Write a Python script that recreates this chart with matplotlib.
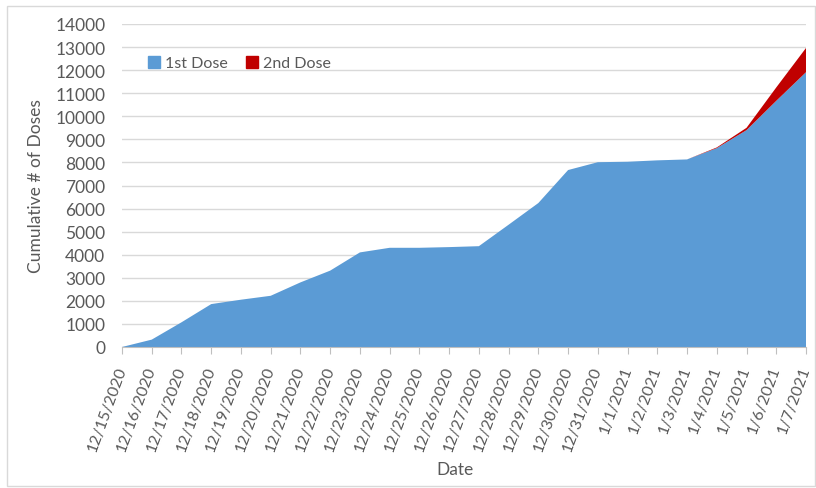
import matplotlib
matplotlib.use("Agg")
import matplotlib.pyplot as plt
from matplotlib.patches import Rectangle
from matplotlib.lines import Line2D

dates = ["12/15/2020", "12/16/2020", "12/17/2020", "12/18/2020", "12/19/2020",
         "12/20/2020", "12/21/2020", "12/22/2020", "12/23/2020", "12/24/2020",
         "12/25/2020", "12/26/2020", "12/27/2020", "12/28/2020", "12/29/2020",
         "12/30/2020", "12/31/2020", "1/1/2021", "1/2/2021", "1/3/2021",
         "1/4/2021", "1/5/2021", "1/6/2021", "1/7/2021"]
first_dose = [0, 320, 1070, 1860, 2050, 2220, 2800, 3310, 4100, 4300,
              4300, 4330, 4370, 5300, 6240, 7670, 8010, 8030, 8090, 8130,
              8620, 9400, 10670, 11910]
second_dose = [0, 0, 0, 0, 0, 0, 0, 0, 0, 0,
               0, 0, 0, 0, 0, 0, 0, 0, 0, 0,
               30, 100, 580, 1050]
yticks = list(range(0, 14001, 1000))

blue = "#5B9BD5"
red = "#C00000"
txt = "#595959"

plt.rcParams['font.family'] = ['Lato', 'DejaVu Sans']

fig = plt.figure(figsize=(8.16, 4.89), dpi=100)
ax = fig.add_axes([122/816, 1-348/489, (806-122)/816, (348-25)/489])

x = list(range(len(dates)))
ax.stackplot(x, first_dose, second_dose, colors=[blue, red], linewidth=0, zorder=2)

ax.set_xlim(0, len(dates)-1)
ax.set_ylim(0, 14000)
ax.set_yticks(yticks)
ax.set_yticklabels([str(v) for v in yticks], fontsize=12.5, color=txt)
ax.yaxis.grid(True, color="#d9d9d9", linewidth=1, zorder=0)
ax.set_axisbelow(True)
ax.tick_params(axis='y', length=0, pad=12)

ax.set_xticks(x)
ax.set_xticklabels(dates, rotation=70, ha='right', va='center', rotation_mode='anchor',
                   fontsize=11.5, color=txt)
ax.tick_params(axis='x', length=5, color="#bfbfbf", pad=9)

for s in ['top', 'right', 'left']:
    ax.spines[s].set_visible(False)
ax.spines['bottom'].set_color("#bfbfbf")

ax.set_ylabel("Cumulative # of Doses", fontsize=12.5, color=txt, labelpad=8)
fig.text(455/816, 1-470/489, "Date", fontsize=12.5, color=txt, ha='center', va='center')

handles = [Line2D([0], [0], marker='s', color='none', markerfacecolor=blue, markeredgecolor=blue, markersize=8),
           Line2D([0], [0], marker='s', color='none', markerfacecolor=red, markeredgecolor=red, markersize=8)]
leg = ax.legend(handles, ["1st Dose", "2nd Dose"], ncol=2, loc='upper left',
                bbox_to_anchor=(0.012, 0.945), frameon=False, fontsize=11.5,
                handletextpad=0.1, columnspacing=0.9, handlelength=1.2)
for t in leg.get_texts():
    t.set_color(txt)

fig.patches.append(Rectangle((7/816, 2/489), 808/816, 1-9/489, transform=fig.transFigure,
                             fill=False, edgecolor="#d9d9d9", linewidth=1))

fig.savefig("out.png", dpi=100)
